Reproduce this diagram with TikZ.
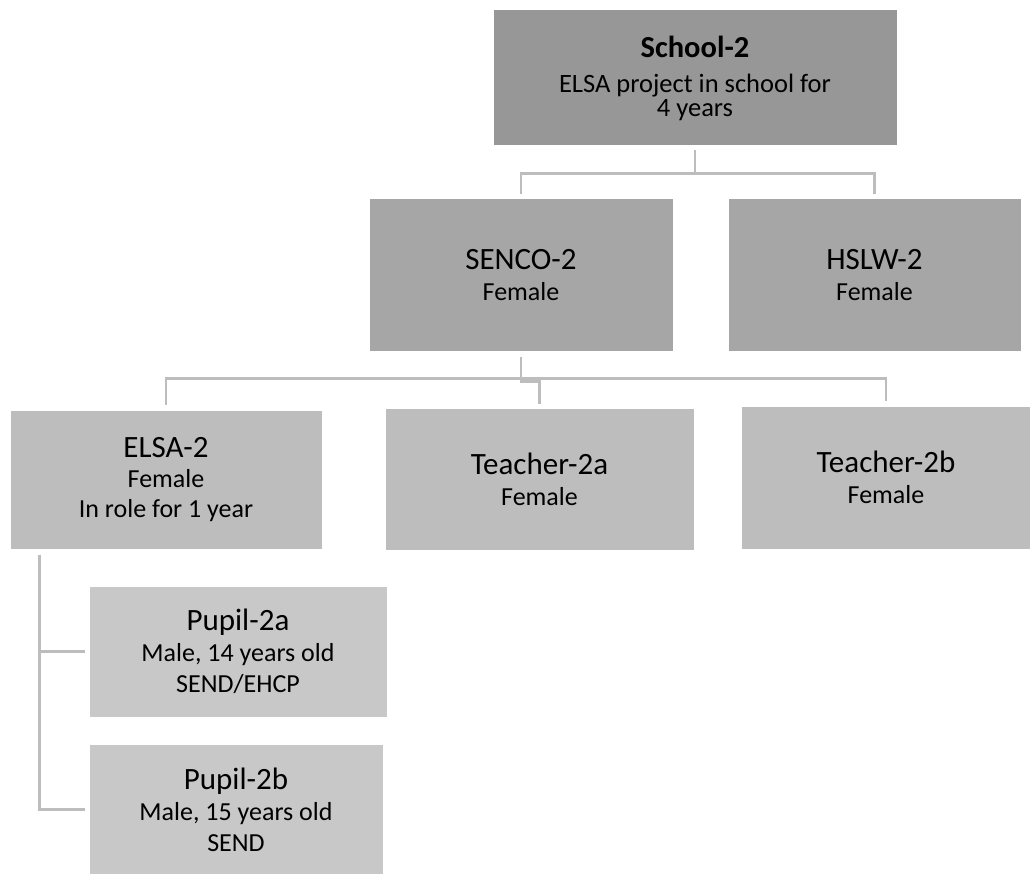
\documentclass[tikz,border=0pt]{standalone}
\usepackage{fontspec}
\setmainfont{Carlito}
\definecolor{lvA}{HTML}{979797}
\definecolor{lvB}{HTML}{A6A6A6}
\definecolor{lvC}{HTML}{BDBDBD}
\definecolor{lvD}{HTML}{C8C8C8}
\definecolor{connc}{HTML}{BDBDBD}
\tikzset{
  box/.style={rectangle, draw=white, line width=1pt, inner sep=0pt, align=center,
    font=\fontsize{26}{31}\selectfont, text=black},
  conn/.style={draw=connc, line width=2.3pt},
}
\newcommand{\nm}[1]{{\fontsize{31}{31}\selectfont #1}}
\begin{document}
\begin{tikzpicture}[x=1pt,y=-1pt]
\useasboundingbox (0,0) rectangle (1030,874);
\clip (0,0) rectangle (1030,874);
\node[box, fill=lvA, minimum width=404pt, minimum height=136pt] (school) at (695,78)
  {{\bfseries\fontsize{30.5}{30}\selectfont School-2}\\[4pt] {\fontsize{26.5}{31}\selectfont ELSA project in school for}\\[-7pt] {\fontsize{26.5}{31}\selectfont 4 years}};
\node[box, fill=lvB, minimum width=304pt, minimum height=152pt] (senco) at (521,275)
  {\nm{SENCO-2}\\ Female};
\node[box, fill=lvB, minimum width=293pt, minimum height=152pt] (hslw) at (874.5,275)
  {\nm{HSLW-2}\\ Female};
\node[box, fill=lvC, minimum width=312pt, minimum height=139pt] (elsa) at (166,479.5)
  {\nm{ELSA-2}\\[-1pt] Female\\[-1pt] In role for 1 year};
\node[box, fill=lvC, minimum width=309pt, minimum height=142pt] (t2a) at (539.5,479)
  {\nm{Teacher-2a}\\ Female};
\node[box, fill=lvC, minimum width=290pt, minimum height=143pt] (t2b) at (886,477.5)
  {\nm{Teacher-2b}\\ Female};
\node[box, fill=lvD, minimum width=298pt, minimum height=131pt] (p2a) at (238,651.5)
  {\nm{Pupil-2a}\\ Male, 14 years old\\ SEND/EHCP};
\node[box, fill=lvD, minimum width=294pt, minimum height=131pt] (p2b) at (236,809.5)
  {\nm{Pupil-2b}\\ Male, 15 years old\\ SEND};
% connectors
\draw[conn] ([yshift=-4pt]school.south) -- ++(0,23) -| ([yshift=4pt]senco.north);
\draw[conn] ([yshift=-4pt]school.south) -- ++(0,23) -| ([yshift=4pt]hslw.north);
\draw[conn] ([yshift=-5pt]senco.south) -- ++(0,22) -| ([yshift=5pt]elsa.north);
\draw[conn] ([yshift=-5pt]senco.south) -- ++(0,25) -| ([yshift=4pt]t2a.north);
\draw[conn] ([yshift=-5pt]senco.south) -- ++(0,22) -| ([yshift=5pt]t2b.north);
\coordinate (trunk) at ([xshift=30pt,yshift=-5pt]elsa.south west);
\draw[conn] (trunk) |- ([xshift=-4pt]p2a.west);
\draw[conn] (trunk) |- ([xshift=-4pt]p2b.west);
\end{tikzpicture}
\end{document}
